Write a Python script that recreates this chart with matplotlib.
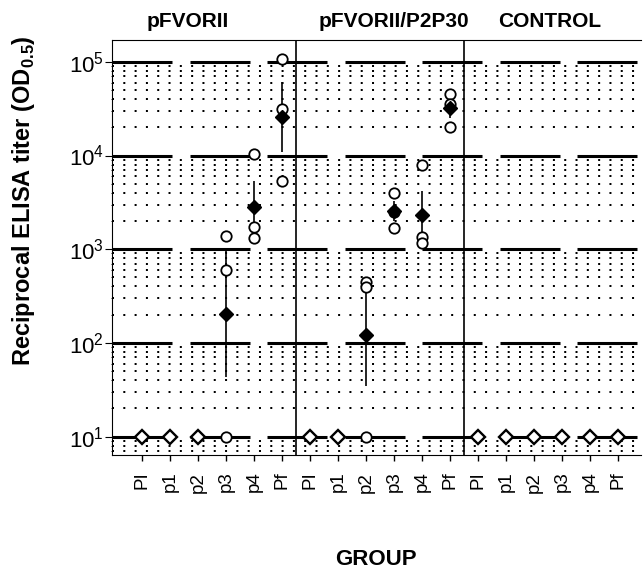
import numpy as np
import matplotlib.pyplot as plt
from matplotlib.ticker import NullFormatter

plt.rcParams['font.family'] = ['Liberation Sans', 'DejaVu Sans']
plt.rcParams['mathtext.fontset'] = 'custom'
plt.rcParams['mathtext.rm'] = 'Liberation Sans'
plt.rcParams['mathtext.bf'] = 'Liberation Sans:bold'
plt.rcParams['lines.scale_dashes'] = False

groups = ['pFVORII', 'pFVORII/P2P30', 'CONTROL']
bleeds = ['PI', 'p1', 'p2', 'p3', 'p4', 'Pf']

# individual animals (open circles)
dot_group = ['pFVORII'] * 9 + ['pFVORII/P2P30'] * 12
dot_bleed = ['p3'] * 3 + ['p4'] * 3 + ['Pf'] * 3 + ['p2'] * 3 + ['p3'] * 3 + ['p4'] * 3 + ['Pf'] * 3
dot_titer = [1370, 600, 10, 10400, 1710, 1310, 107000, 31000, 5300,
             445, 395, 10, 3950, 2480, 1670, 7830, 1340, 1160, 45700, 35700, 20400]

# geometric means (filled diamonds) and error bar ends
mean_group = ['pFVORII'] * 3 + ['pFVORII/P2P30'] * 4
mean_bleed = ['p3', 'p4', 'Pf', 'p2', 'p3', 'p4', 'Pf']
mean_titer = [204, 2820, 26000, 121, 2540, 2300, 32200]
err_low = [43, 1490, 10900, 35, 1980, 1250, 25000]
err_high = [950, 5400, 61000, 425, 3270, 4200, 41000]

# all animals at detection limit (open diamonds)
neg_group = ['pFVORII'] * 3 + ['pFVORII/P2P30'] * 2 + ['CONTROL'] * 6
neg_bleed = ['PI', 'p1', 'p2', 'PI', 'p1'] + bleeds
neg_titer = [10] * 11

decades = [10, 100, 1000, 10000, 100000]


def pos(g, b):
    return groups.index(g) * len(bleeds) + bleeds.index(b)


fig = plt.figure(figsize=(6.43, 5.69), dpi=100)
ax = fig.add_axes([112 / 643, 114 / 569, 529 / 643, 415 / 569])
ax.set_yscale('log')
xlo, xhi = -1.07, 17.82
ax.set_xlim(xlo, xhi)
ax.set_ylim(6.36, 1.71e5)

# dotted minor grid
ax.set_axisbelow(True)
ax.grid(which='minor', axis='y', color='black', linewidth=1.44,
        linestyle=(0, (1.44, 6.7)))

# broken thick lines at decades
for s in np.arange(xlo, xhi, 2.77):
    ax.hlines(decades, s, min(s + 2.14, xhi), color='black', lw=2.2, zorder=2)

for d in [5.5, 11.5]:
    ax.axvline(d, color='black', lw=1.2, zorder=2)

mx = [pos(g, b) for g, b in zip(mean_group, mean_bleed)]
ax.vlines(mx, err_low, err_high, color='black', lw=1.2, zorder=3)

dx = [pos(g, b) for g, b in zip(dot_group, dot_bleed)]
ax.plot(dx, dot_titer, 'o', ms=7.5, mfc='white', mec='black', mew=1.3, zorder=4)

ax.plot(mx, mean_titer, 'D', ms=7.6, color='black', zorder=5)

nx = [pos(g, b) for g, b in zip(neg_group, neg_bleed)]
ax.plot(nx, neg_titer, 'D', ms=7, mfc='white', mec='black', mew=1.7, zorder=5)

ax.set_xticks(range(len(groups) * len(bleeds)))
ax.set_xticklabels(bleeds * len(groups), rotation=90, fontsize=13.5)
ax.tick_params(axis='x', length=4, pad=8, width=1)
ax.tick_params(axis='y', which='major', length=5, pad=1, labelsize=16)
ax.tick_params(axis='y', which='minor', length=2, direction='inout')
ax.yaxis.set_minor_formatter(NullFormatter())
ax.spines['right'].set_visible(False)

for g, tx in zip(groups, [1.65, 9.0, 14.55]):
    ax.text(tx, 1.031, g, transform=ax.get_xaxis_transform(), ha='center',
            va='baseline', fontsize=15, fontweight='bold')

fig.text(24 / 643, 1 - 201 / 569, r'Reciprocal ELISA titer (OD$_\mathbf{0.5}$)',
         rotation=90, ha='center', va='center', fontsize=17, fontweight='bold')
fig.text(376 / 643, 4 / 569, 'GROUP', ha='center', va='baseline',
         fontsize=16, fontweight='bold')

fig.savefig('out.png', dpi=100)
